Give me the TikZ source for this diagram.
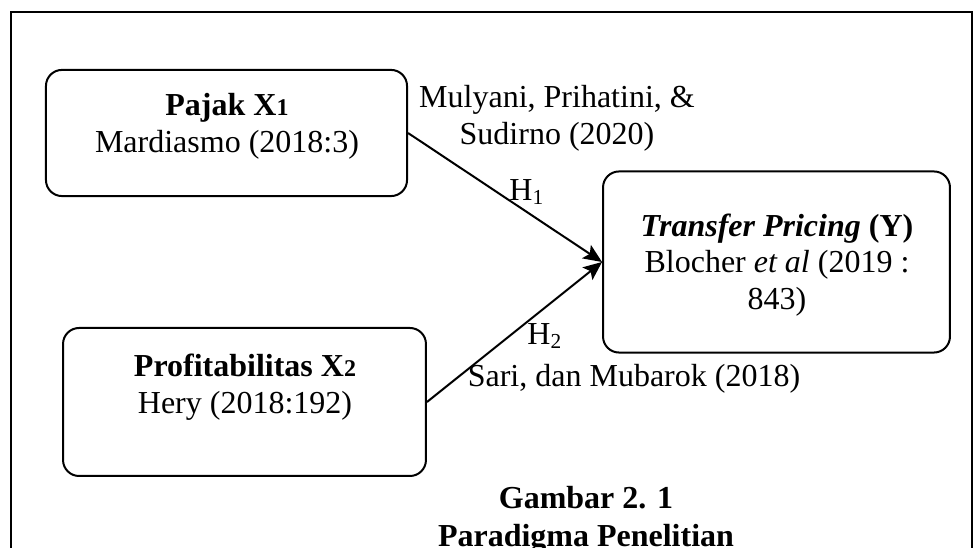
\documentclass[tikz,border=0pt]{standalone}
\usepackage{fontspec}
\setmainfont{Liberation Serif}
\usetikzlibrary{arrows.meta}

\begin{document}
\begin{tikzpicture}[x=0.375pt,y=-0.375pt,line width=0.75pt,
	kotak/.style={draw,rounded corners=6pt,inner sep=0pt},
	teks/.style={align=center,font=\fontsize{12}{13.8}\selectfont,inner sep=0pt},
	panah/.style={-{Stealth[length=7pt,width=6pt,inset=1.5pt]}}]
	
	\useasboundingbox (0,0) rectangle (977,548);
	\draw (11,548) -- (11,12) -- (972,12) -- (972,548);
	
	\node[kotak,minimum width=135.4pt,minimum height=47.3pt] (pajak) at (226.5,133) {};
	\node[kotak,minimum width=136.1pt,minimum height=55.5pt] (profit) at (244.5,402) {};
	\node[kotak,minimum width=130.1pt,minimum height=67.9pt] (tp) at (776.5,262) {};
	
	\node[teks] (tpajak) at (227,126) {\textbf{Pajak X{\small 1}}\\Mardiasmo (2018:3)};
	\node[teks] (tprofit) at (245,387) {\textbf{Profitabilitas X{\small 2}}\\Hery (2018:192)};
	\node[teks] (ttp) at (777,265) {\textbf{\textit{Transfer Pricing} (Y)}\\Blocher \textit{et al} (2019 :\\843)};
	
	\draw[panah] (pajak.east) -- (tp.west);
	\draw[panah] (profit.east) -- (tp.west);
	
	\node[teks] (mulyani) at (557,118) {Mulyani, Prihatini, \&\\Sudirno (2020)};
	\node[teks] (h1) at (527,192) {H\textsubscript{1}};
	\node[teks] (h2) at (545,336) {H\textsubscript{2}};
	\node[teks] (sari) at (634,379) {Sari, dan Mubarok (2018)};
	
	\node[teks,font=\fontsize{12}{14.5}\selectfont\bfseries] (gambar) at (586,520) {Gambar 2. 1\\Paradigma Penelitian};
	
\end{tikzpicture}
\end{document}
